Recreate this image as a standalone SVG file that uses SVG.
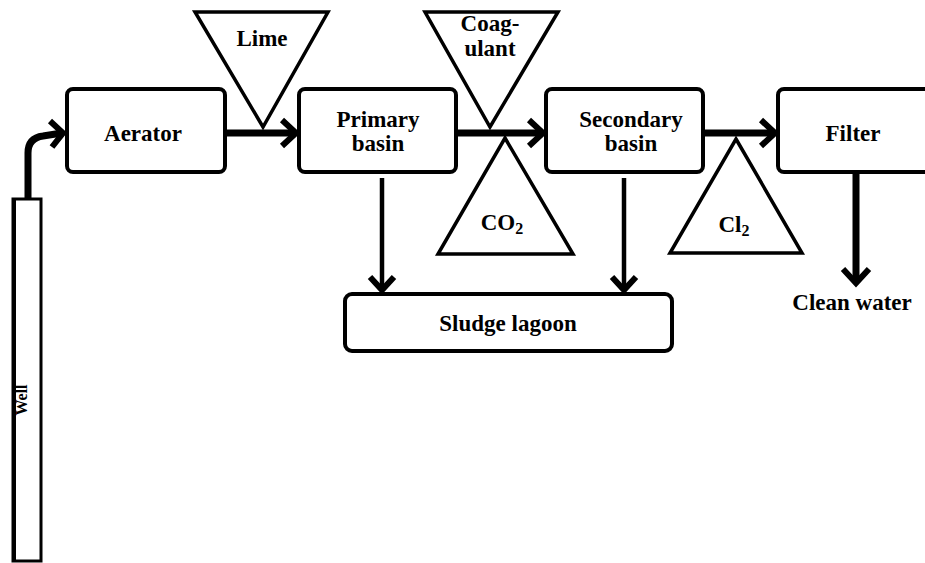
<svg xmlns="http://www.w3.org/2000/svg" width="925" height="563" viewBox="0 0 925 563">
<style>
.box{fill:#fff;stroke:#000;stroke-width:4}
.tri{fill:#fff;stroke:#000;stroke-width:3.5;stroke-linejoin:miter}
.t{font-family:'Liberation Serif','DejaVu Serif',serif;font-weight:700;font-size:23px;fill:#000;text-anchor:middle}
.thick{fill:none;stroke:#000;stroke-width:7}
.thin{fill:none;stroke:#000;stroke-width:4.5}
.head{fill:none;stroke:#000;stroke-width:6;stroke-linecap:butt;stroke-linejoin:miter}
</style>
<rect width="925" height="563" fill="#fff"/>
<g id="well">
<rect x="13" y="199" width="28" height="362" fill="#fff" stroke="#000" stroke-width="3"/>
<line x1="14" y1="199" x2="14" y2="561" stroke="#000" stroke-width="4"/>
<text class="t" x="0" y="0" style="font-size:16px" transform="translate(27,400) rotate(-90)">Well</text>
</g>
<g id="aerator">
<rect class="box" x="67" y="89" width="158" height="83" rx="6"/>
<text class="t" x="143" y="141">Aerator</text>
</g>
<g id="primary">
<rect class="box" x="299" y="89" width="157" height="83" rx="6"/>
<text class="t" x="378" y="127">Primary</text>
<text class="t" x="378" y="151">basin</text>
</g>
<g id="secondary">
<rect class="box" x="546" y="89" width="157" height="83" rx="6"/>
<text class="t" x="631" y="127">Secondary</text>
<text class="t" x="631" y="151">basin</text>
</g>
<g id="filter">
<rect class="box" x="778" y="89" width="160" height="83" rx="6"/>
<text class="t" x="853" y="141">Filter</text>
</g>
<g id="sludge">
<rect class="box" x="345" y="294" width="327" height="57" rx="7"/>
<text class="t" x="508" y="331">Sludge lagoon</text>
</g>
<g id="lime">
<polygon class="tri" points="195,12 328,12 263,127"/>
<text class="t" x="262" y="46">Lime</text>
</g>
<g id="coagulant">
<polygon class="tri" points="425,12 558,12 490,127"/>
<text class="t" x="490" y="31">Coag-</text>
<text class="t" x="490" y="56">ulant</text>
</g>
<g id="co2">
<polygon class="tri" points="505,138 573,254 438,254"/>
<text class="t" x="502" y="230">CO<tspan dy="4" style="font-size:16px">2</tspan></text>
</g>
<g id="cl2">
<polygon class="tri" points="736,139 802,253 670,253"/>
<text class="t" x="734" y="232">Cl<tspan dy="4" style="font-size:16px">2</tspan></text>
</g>
<g id="clean">
<text class="t" x="852" y="310">Clean water</text>
</g>
<g id="connectors">
<path class="thick" d="M28,199 V153 Q28,138 43,136 L62,133"/>
<polyline class="head" points="50,121 63,133 52,147"/>
<line class="thick" x1="226" y1="133" x2="296" y2="133"/>
<polyline class="head" points="282,120 296,133 282,146"/>
<line class="thick" x1="457" y1="133" x2="543" y2="133"/>
<polyline class="head" points="529,120 543,133 529,146"/>
<line class="thick" x1="703" y1="133" x2="775" y2="133"/>
<polyline class="head" points="761,120 775,133 761,146"/>
<line class="thick" x1="856" y1="173" x2="856" y2="283"/>
<polyline class="head" points="843,269 856,283 869,269"/>
<line class="thin" x1="382" y1="178" x2="382" y2="290"/>
<polyline class="head" points="370,277 382,290 394,277"/>
<line class="thin" x1="624" y1="178" x2="624" y2="290"/>
<polyline class="head" points="612,277 624,290 636,277"/>
</g>
</svg>
